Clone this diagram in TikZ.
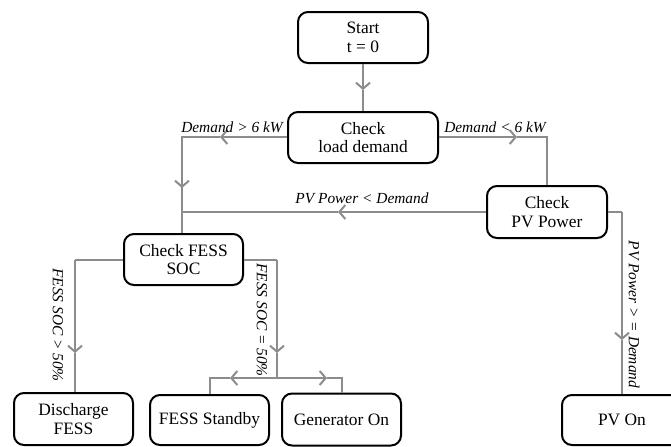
\documentclass[tikz,border=0pt]{standalone}
\usepackage{fontspec}
\setmainfont{Liberation Serif}
\usetikzlibrary{arrows.meta}
\definecolor{lg}{RGB}{140,140,140}
\begin{document}
\begin{tikzpicture}[x=0.5pt,y=-0.5pt,
  box/.style={draw=black,line width=1pt,rounded corners=5pt,align=center,
    font=\fontsize{8.7}{9.4}\selectfont,inner sep=1pt},
  gline/.style={draw=lg,line width=1pt},
  garrow/.style={gline,-{Straight Barb[length=3pt,width=7pt]}},
  lbl/.style={font=\fontsize{7.7}{9}\selectfont\itshape,inner sep=0pt}]
\useasboundingbox (0,0) rectangle (671,446);
\clip (0,0) rectangle (671,446);
% nodes
\node[box,minimum width=65pt,minimum height=25.5pt] (start) at (363,37.5) {Start\\t = 0};
\node[box,minimum width=75pt,minimum height=25.5pt] (load) at (363,137.5) {Check\\load demand};
\node[box,minimum width=60pt,minimum height=26pt] (pv) at (547,212) {Check\\PV Power};
\node[box,minimum width=59.5pt,minimum height=25.5pt] (fess) at (183.5,259.5) {Check FESS\\SOC};
\node[box,minimum width=59.5pt,minimum height=26pt] (dis) at (73.5,419) {Discharge\\FESS};
\node[box,minimum width=59.5pt,minimum height=25pt] (stb) at (209.5,420) {FESS Standby};
\node[box,minimum width=59.5pt,minimum height=26pt] (gen) at (341.5,419.5) {Generator On};
\node[box,minimum width=60pt,minimum height=25pt] (pvon) at (622,420) {PV On};
% coordinates
\coordinate (a1) at (363,90);
\coordinate (a2) at (220,137);
\coordinate (cL) at (182,137);
\coordinate (a3) at (182,188);
\coordinate (jL) at (182,212);
\coordinate (a4) at (517,137);
\coordinate (cR) at (547,137);
\coordinate (a5) at (338,212);
\coordinate (cP) at (622,212);
\coordinate (a6) at (622,340);
\coordinate (cF1) at (75,260);
\coordinate (a7) at (75,353);
\coordinate (cF2) at (277,260);
\coordinate (a8) at (277,353);
\coordinate (j2) at (277,378);
\coordinate (cS) at (209.5,378);
\coordinate (a9) at (230,378);
\coordinate (cG) at (341.5,378);
\coordinate (a10) at (327,378);
% connectors
\draw[garrow] (start.south) -- (a1);
\draw[gline] (a1) -- (load.north);
\draw[garrow] (load.west |- a2) -- (a2);
\draw[gline] (a2) -- (cL) -- (a3);
\draw[garrow] (cL) -- (a3);
\draw[gline] (a3) -- (cL |- fess.north);
\draw[garrow] (load.east |- a4) -- (a4);
\draw[gline] (a4) -- (cR) -- (pv.north);
\draw[garrow] (pv.west) -- (a5);
\draw[gline] (a5) -- (jL);
\draw[gline] (pv.east) -- (cP);
\draw[garrow] (cP) -- (a6);
\draw[gline] (a6) -- (pvon.north);
\draw[gline] (fess.west |- cF1) -- (cF1);
\draw[garrow] (cF1) -- (a7);
\draw[gline] (a7) -- (cF1 |- dis.north);
\draw[gline] (fess.east |- cF2) -- (cF2);
\draw[garrow] (cF2) -- (a8);
\draw[gline] (a8) -- (j2);
\draw[garrow] (j2) -- (a9);
\draw[gline] (a9) -- (cS) -- (stb.north);
\draw[garrow] (j2) -- (a10);
\draw[gline] (a10) -- (cG) -- (gen.north);
% labels
\node[lbl] (l1) at (232,127) {Demand > 6 kW};
\node[lbl] (l2) at (495,127) {Demand < 6 kW};
\node[lbl] (l3) at (362,198) {PV Power < Demand};
\node[lbl,rotate=-90] (l4) at (58,325) {FESS SOC > 50\%};
\node[lbl,rotate=-90] (l5) at (262,320) {FESS SOC = 50\%};
\node[lbl,rotate=-90] (l6) at (634,314.5) {PV Power > = Demand};
\end{tikzpicture}
\end{document}
